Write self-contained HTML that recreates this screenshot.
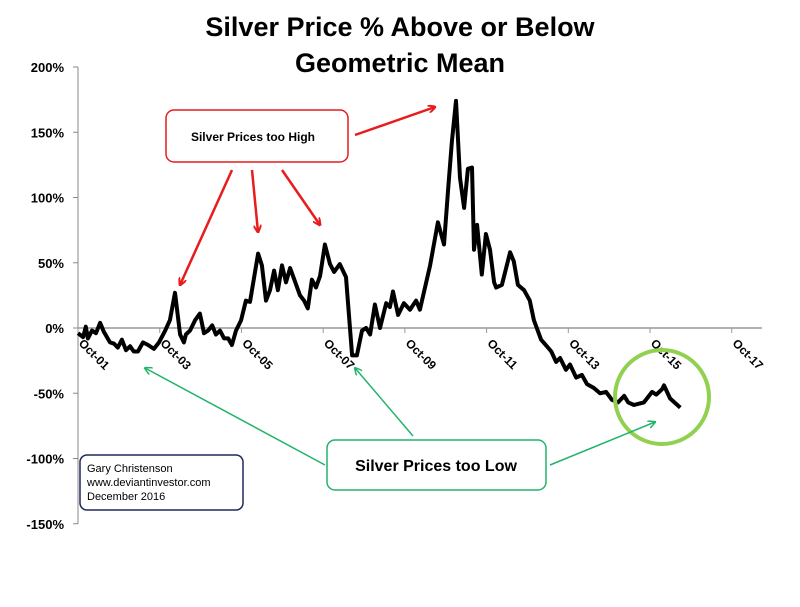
<!DOCTYPE html>
<html><head><meta charset="utf-8"><style>
body{margin:0;background:#fff}
svg text{font-family:"Liberation Sans",Arial,sans-serif}
</style></head><body>
<svg id="c" width="800" height="602" viewBox="0 0 800 602" xmlns="http://www.w3.org/2000/svg">
<defs>
<marker id="ar" markerWidth="8" markerHeight="8" refX="7" refY="4" orient="auto" markerUnits="userSpaceOnUse"><path d="M0,0 L8,4 L0,8" fill="none" stroke="#e81c1c" stroke-width="2"/></marker>
<marker id="ag" markerWidth="8" markerHeight="8" refX="7" refY="4" orient="auto" markerUnits="userSpaceOnUse"><path d="M0,0 L8,4 L0,8" fill="none" stroke="#22b36b" stroke-width="1.5"/></marker>
</defs>
<text x="400" y="36" text-anchor="middle" font-size="27" font-weight="bold">Silver Price % Above or Below</text>
<text x="400" y="72" text-anchor="middle" font-size="27" font-weight="bold">Geometric Mean</text>
<g id="axes"></g>
<path id="line" fill="none" stroke="#000" stroke-width="4" stroke-linejoin="round"/>
<circle cx="662" cy="397" r="47" fill="none" stroke="#92d050" stroke-width="4"/>
<rect x="166" y="110" width="182" height="52" rx="8" fill="#fff" stroke="#e81c1c" stroke-width="1.5"/>
<text x="253" y="141" text-anchor="middle" font-size="12" font-weight="bold">Silver Prices  too High</text>
<g stroke="#e81c1c" stroke-width="2.5" marker-end="url(#ar)">
<line x1="232" y1="170" x2="180" y2="285"/><line x1="252" y1="170" x2="258" y2="232"/><line x1="282" y1="170" x2="320" y2="225"/><line x1="355" y1="135" x2="435" y2="107"/>
</g>
<rect x="327" y="440" width="219" height="50" rx="8" fill="#fff" stroke="#22b36b" stroke-width="1.5"/>
<text x="436" y="471" text-anchor="middle" font-size="16" font-weight="bold">Silver Prices too Low</text>
<g stroke="#22b36b" stroke-width="1.5" marker-end="url(#ag)">
<line x1="325" y1="465" x2="145" y2="368"/><line x1="413" y1="436" x2="355" y2="368"/><line x1="550" y1="465" x2="655" y2="422"/>
</g>
<rect x="80" y="455" width="163" height="55" rx="7" fill="#fff" stroke="#1f2a5a" stroke-width="1.5"/>
<text font-size="11"><tspan x="87" y="472">Gary Christenson</tspan><tspan x="87" y="486">www.deviantinvestor.com</tspan><tspan x="87" y="500">December 2016</tspan></text>
</svg>
<script>
const months=[0,1.5,2.3,2.9,4.1,5.3,6.5,7.6,9.4,10.6,11.7,12.9,14.1,15.3,16.4,17.6,19.1,20.6,22.3,23.8,25.6,27,28.5,30,31.1,31.7,32.9,34.4,35.8,37,38.2,39.4,40.5,41.7,42.9,44.1,45.2,46.4,47.9,49.3,50.5,52.9,54,55.2,56.4,57.6,58.7,59.9,61.1,62.3,63.4,65.2,66.4,67.5,68.7,69.9,71.1,72.5,74,75.2,76.9,78.7,80.5,81.9,83.4,84.6,85.8,87.2,88.7,90.5,91.6,92.5,94,95.7,97.5,99.3,100.4,103.4,105.7,107.5,108.7,109.8,111,112.2,113.4,114.5,115.7,116.3,117.2,118.6,119.8,121,122.2,122.8,124.5,126.9,128,129.2,131,132.7,133.9,136,137.7,139,140.4,141.6,143.3,144.5,146.3,148,149.5,151.5,153.3,155.1,156.8,158.6,160.4,161.6,163.3,166.2,168.6,169.8,171.5,172.1,173.9,176.9];
const values=[-4,-7,1,-8,-2,-4,4,-3,-11,-12,-15,-9,-17,-14,-18,-18,-11,-13,-16,-11,-2,6,27,-5,-11,-5,-2,6,11,-4,-2,2,-5,-2,-8,-8,-13,-2,6,21,20,57,48,21,29,44,29,48,35,46,38,25,21,15,37,31,40,64,49,43,49,39,-21,-21,-2,0,-5,18,0,19,16,28,10,19,14,21,14,48,81,64,106,143,174,115,92,122,123,60,79,41,72,60,35,31,33,58,51,33,29,21,6,-9,-14,-18,-26,-23,-32,-28,-38,-36,-43,-46,-50,-49,-55,-57,-52,-57,-59,-57,-49,-51,-47,-44,-54,-61];
const yTicks=[200,150,100,50,0,-50,-100,-150];
const xTickLabels=["Oct-01","Oct-03","Oct-05","Oct-07","Oct-09","Oct-11","Oct-13","Oct-15","Oct-17"];
const X=m=>78+m*3.405, Y=v=>328-v*1.305;
const NS="http://www.w3.org/2000/svg";
const ax=document.getElementById('axes');
function mk(t,a){const e=document.createElementNS(NS,t);for(const k in a)e.setAttribute(k,a[k]);ax.appendChild(e);return e;}
let e=mk('line',{x1:78,y1:Y(200),x2:78,y2:Y(-150),stroke:'#888','stroke-width':1});


e=mk('line',{x1:78,y1:Y(0),x2:762,y2:Y(0),stroke:'#999','stroke-width':1.5});


yTicks.forEach(v=>{
 mk('line',{x1:73,y1:Y(v),x2:78,y2:Y(v),stroke:'#888'});
 const t=mk('text',{x:64,y:Y(v)+5,'text-anchor':'end','font-size':13,'font-weight':'bold'});
 t.textContent=v+'%';
 
 
});
xTickLabels.forEach((l,i)=>{
 const x=X(i*24);
 mk('line',{x1:x,y1:Y(0),x2:x,y2:Y(0)+5,stroke:'#999'});
 const t=mk('text',{x:x,y:Y(0)+16,'font-size':12,'font-weight':'bold',transform:`rotate(45 ${x} ${Y(0)+16})`});
 t.textContent=l;
 
 
});
document.getElementById('line').setAttribute('d',months.map((m,i)=>(i?'L':'M')+X(m).toFixed(1)+','+Y(values[i]).toFixed(1)).join(''));
</script>
</body></html>
